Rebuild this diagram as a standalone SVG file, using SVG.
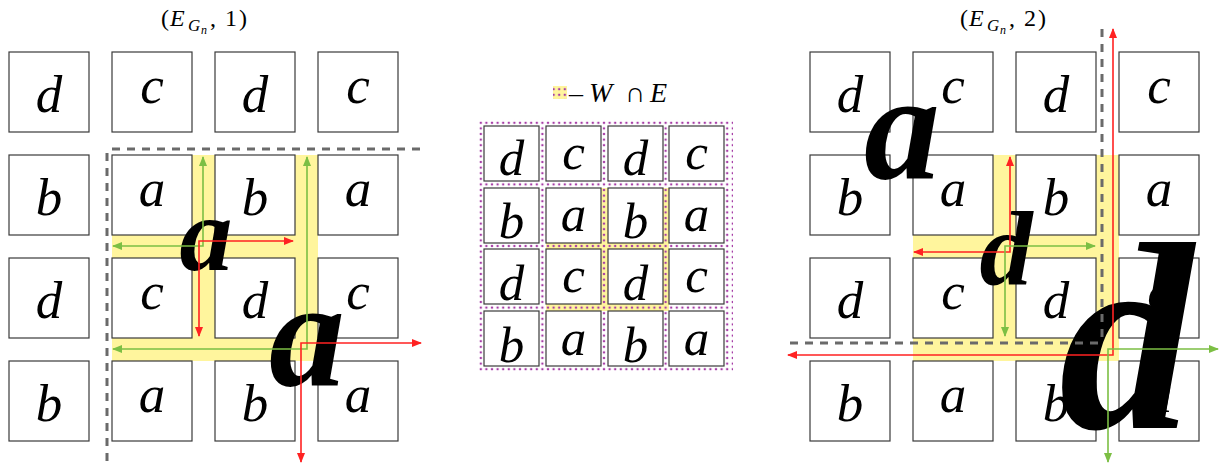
<svg xmlns="http://www.w3.org/2000/svg" width="1220" height="465" viewBox="0 0 1220 465">
  <defs>
    <style>
      .box { fill: #ffffff; stroke: #3a3a3a; stroke-width: 1.2; }
      .lt { font-family: "Liberation Serif", "DejaVu Serif", serif; font-style: italic; font-size: 53px; fill: #000; text-anchor: middle; }
      .lm { font-family: "Liberation Serif", "DejaVu Serif", serif; font-style: italic; font-size: 51px; fill: #000; text-anchor: middle; }
      .big { font-family: "Liberation Serif", "DejaVu Serif", serif; font-style: italic; font-weight: bold; fill: #000; text-anchor: middle; }
      .ttl { font-family: "Liberation Serif", "DejaVu Serif", serif; font-size: 24px; fill: #000; }
      .lgd { font-family: "Liberation Serif", "DejaVu Serif", serif; font-size: 28px; fill: #000; }
      .it { font-style: italic; }
      .band { fill: #fff59d; }
      .dash { fill: none; stroke: #6a6a6a; stroke-width: 3; stroke-dasharray: 8 7; }
      .red { fill: none; stroke: #ff2222; stroke-width: 1.6; marker-start: url(#ah-red); marker-end: url(#ah-red); }
      .green { fill: none; stroke: #7cbf44; stroke-width: 1.6; marker-start: url(#ah-green); marker-end: url(#ah-green); }
    </style>
    <marker id="ah-red" viewBox="0 0 10 8" markerUnits="userSpaceOnUse" markerWidth="10" markerHeight="8" refX="9" refY="4" orient="auto-start-reverse">
      <path d="M0,0 L10,4 L0,8 Z" fill="#ff2222"/>
    </marker>
    <marker id="ah-green" viewBox="0 0 10 8" markerUnits="userSpaceOnUse" markerWidth="10" markerHeight="8" refX="9" refY="4" orient="auto-start-reverse">
      <path d="M0,0 L10,4 L0,8 Z" fill="#7cbf44"/>
    </marker>
    <pattern id="dots" patternUnits="userSpaceOnUse" x="478" y="120" width="5.6" height="5.6">
      <circle cx="2.8" cy="2.8" r="1.25" fill="#a63ca6"/>
    </pattern>
  </defs>

  <!-- left panel: (E_{G_n},1) -->
  <g id="panel-left">
    <text class="ttl" y="26"><tspan x="161">(</tspan><tspan class="it" x="170">E</tspan><tspan class="it" x="188" y="31" font-size="17">G</tspan><tspan class="it" x="201" y="34" font-size="12">n</tspan><tspan x="210" y="26">,</tspan><tspan x="225">1</tspan><tspan x="239">)</tspan></text>
    <g id="left-bands">
      <rect class="band" x="192" y="155" width="23" height="206"/>
      <rect class="band" x="295" y="155" width="23" height="206"/>
      <rect class="band" x="112" y="235" width="206" height="23"/>
      <rect class="band" x="112" y="338" width="206" height="23"/>
    </g>
    <g id="L-r1c1"><rect class="box" x="9" y="52" width="80" height="80"/><text class="lt" x="49" y="111.5">d</text></g>
    <g id="L-r1c2"><rect class="box" x="112" y="52" width="80" height="80"/><text class="lt" x="152" y="103">c</text></g>
    <g id="L-r1c3"><rect class="box" x="215" y="52" width="80" height="80"/><text class="lt" x="255" y="111.5">d</text></g>
    <g id="L-r1c4"><rect class="box" x="318" y="52" width="80" height="80"/><text class="lt" x="358" y="103">c</text></g>
    <g id="L-r2c1"><rect class="box" x="9" y="155" width="80" height="80"/><text class="lt" x="49" y="214.5">b</text></g>
    <g id="L-r2c2"><rect class="box" x="112" y="155" width="80" height="80"/><text class="lt" x="152" y="206">a</text></g>
    <g id="L-r2c3"><rect class="box" x="215" y="155" width="80" height="80"/><text class="lt" x="255" y="214.5">b</text></g>
    <g id="L-r2c4"><rect class="box" x="318" y="155" width="80" height="80"/><text class="lt" x="358" y="206">a</text></g>
    <g id="L-r3c1"><rect class="box" x="9" y="258" width="80" height="80"/><text class="lt" x="49" y="317.5">d</text></g>
    <g id="L-r3c2"><rect class="box" x="112" y="258" width="80" height="80"/><text class="lt" x="152" y="309">c</text></g>
    <g id="L-r3c3"><rect class="box" x="215" y="258" width="80" height="80"/><text class="lt" x="255" y="317.5">d</text></g>
    <g id="L-r3c4"><rect class="box" x="318" y="258" width="80" height="80"/><text class="lt" x="358" y="309">c</text></g>
    <g id="L-r4c1"><rect class="box" x="9" y="361" width="80" height="80"/><text class="lt" x="49" y="420.5">b</text></g>
    <g id="L-r4c2"><rect class="box" x="112" y="361" width="80" height="80"/><text class="lt" x="152" y="412">a</text></g>
    <g id="L-r4c3"><rect class="box" x="215" y="361" width="80" height="80"/><text class="lt" x="255" y="420.5">b</text></g>
    <g id="L-r4c4"><rect class="box" x="318" y="361" width="80" height="80"/><text class="lt" x="358" y="412">a</text></g>
    <text class="big" x="206" y="270" font-size="106">a</text>
    <text class="big" x="307" y="385" font-size="152">a</text>
  </g>

  <!-- middle panel: W ∩ E -->
  <g id="panel-middle">
    <g id="legend">
      <rect x="553" y="86" width="14" height="13" fill="#fff59d"/>
      <rect x="553" y="86" width="14" height="13" fill="url(#dots)"/>
      <text class="lgd" y="102"><tspan x="569">–</tspan><tspan class="it" x="589">W</tspan><tspan x="625">∩</tspan><tspan class="it" x="650">E</tspan></text>
    </g>
    <g id="mid-bands">
      <rect class="band" x="600" y="188" width="8" height="123"/>
      <rect class="band" x="663" y="188" width="6" height="123"/>
      <rect class="band" x="546" y="243" width="123" height="6"/>
      <rect class="band" x="546" y="304" width="123" height="7"/>
    </g>
    <rect x="477" y="119" width="256" height="254" fill="url(#dots)"/>
    <g id="M-r1c1"><rect class="box" x="484" y="126" width="55" height="55"/><text class="lm" x="511.5" y="174.5">d</text></g>
    <g id="M-r1c2"><rect class="box" x="546" y="126" width="55" height="55"/><text class="lm" x="573.5" y="169">c</text></g>
    <g id="M-r1c3"><rect class="box" x="608" y="126" width="55" height="55"/><text class="lm" x="635.5" y="174.5">d</text></g>
    <g id="M-r1c4"><rect class="box" x="669" y="126" width="55" height="55"/><text class="lm" x="696.5" y="169">c</text></g>
    <g id="M-r2c1"><rect class="box" x="484" y="188" width="55" height="55"/><text class="lm" x="511.5" y="237.5">b</text></g>
    <g id="M-r2c2"><rect class="box" x="546" y="188" width="55" height="55"/><text class="lm" x="573.5" y="231">a</text></g>
    <g id="M-r2c3"><rect class="box" x="608" y="188" width="55" height="55"/><text class="lm" x="635.5" y="237.5">b</text></g>
    <g id="M-r2c4"><rect class="box" x="669" y="188" width="55" height="55"/><text class="lm" x="696.5" y="231">a</text></g>
    <g id="M-r3c1"><rect class="box" x="484" y="249" width="55" height="55"/><text class="lm" x="511.5" y="299.5">d</text></g>
    <g id="M-r3c2"><rect class="box" x="546" y="249" width="55" height="55"/><text class="lm" x="573.5" y="292">c</text></g>
    <g id="M-r3c3"><rect class="box" x="608" y="249" width="55" height="55"/><text class="lm" x="635.5" y="299.5">d</text></g>
    <g id="M-r3c4"><rect class="box" x="669" y="249" width="55" height="55"/><text class="lm" x="696.5" y="292">c</text></g>
    <g id="M-r4c1"><rect class="box" x="484" y="311" width="55" height="55"/><text class="lm" x="511.5" y="361.5">b</text></g>
    <g id="M-r4c2"><rect class="box" x="546" y="311" width="55" height="55"/><text class="lm" x="573.5" y="355">a</text></g>
    <g id="M-r4c3"><rect class="box" x="608" y="311" width="55" height="55"/><text class="lm" x="635.5" y="361.5">b</text></g>
    <g id="M-r4c4"><rect class="box" x="669" y="311" width="55" height="55"/><text class="lm" x="696.5" y="355">a</text></g>
  </g>

  <!-- right panel: (E_{G_n},2) -->
  <g id="panel-right">
    <text class="ttl" y="26"><tspan x="960">(</tspan><tspan class="it" x="969">E</tspan><tspan class="it" x="987" y="31" font-size="17">G</tspan><tspan class="it" x="1000" y="34" font-size="12">n</tspan><tspan x="1009" y="26">,</tspan><tspan x="1024">2</tspan><tspan x="1038">)</tspan></text>
    <g id="right-bands">
      <rect class="band" x="993" y="155" width="23" height="206"/>
      <rect class="band" x="1096" y="155" width="23" height="206"/>
      <rect class="band" x="913" y="235" width="206" height="23"/>
      <rect class="band" x="913" y="338" width="206" height="23"/>
    </g>
    <g id="R-r1c1"><rect class="box" x="810" y="52" width="80" height="80"/><text class="lt" x="850" y="111.5">d</text></g>
    <g id="R-r1c2"><rect class="box" x="913" y="52" width="80" height="80"/><text class="lt" x="953" y="103">c</text></g>
    <g id="R-r1c3"><rect class="box" x="1016" y="52" width="80" height="80"/><text class="lt" x="1056" y="111.5">d</text></g>
    <g id="R-r1c4"><rect class="box" x="1119" y="52" width="80" height="80"/><text class="lt" x="1159" y="103">c</text></g>
    <g id="R-r2c1"><rect class="box" x="810" y="155" width="80" height="80"/><text class="lt" x="850" y="214.5">b</text></g>
    <g id="R-r2c2"><rect class="box" x="913" y="155" width="80" height="80"/><text class="lt" x="953" y="206">a</text></g>
    <g id="R-r2c3"><rect class="box" x="1016" y="155" width="80" height="80"/><text class="lt" x="1056" y="214.5">b</text></g>
    <g id="R-r2c4"><rect class="box" x="1119" y="155" width="80" height="80"/><text class="lt" x="1159" y="206">a</text></g>
    <g id="R-r3c1"><rect class="box" x="810" y="258" width="80" height="80"/><text class="lt" x="850" y="317.5">d</text></g>
    <g id="R-r3c2"><rect class="box" x="913" y="258" width="80" height="80"/><text class="lt" x="953" y="309">c</text></g>
    <g id="R-r3c3"><rect class="box" x="1016" y="258" width="80" height="80"/><text class="lt" x="1056" y="317.5">d</text></g>
    <g id="R-r3c4"><rect class="box" x="1119" y="258" width="80" height="80"/><text class="lt" x="1159" y="309">c</text></g>
    <g id="R-r4c1"><rect class="box" x="810" y="361" width="80" height="80"/><text class="lt" x="850" y="420.5">b</text></g>
    <g id="R-r4c2"><rect class="box" x="913" y="361" width="80" height="80"/><text class="lt" x="953" y="412">a</text></g>
    <g id="R-r4c3"><rect class="box" x="1016" y="361" width="80" height="80"/><text class="lt" x="1056" y="420.5">b</text></g>
    <g id="R-r4c4"><rect class="box" x="1119" y="361" width="80" height="80"/><text class="lt" x="1159" y="412">a</text></g>
    <text class="big" x="902" y="178" font-size="152">a</text>
    <text class="big" x="1006" y="285" font-size="106">d</text>
    <text class="big" x="1126" y="428" font-size="268">d</text>
  </g>

  <!-- cut lines and traversal arrows -->
  <g id="connectors">
    <path class="dash" d="M112,149 H422"/>
    <path class="dash" d="M107,153 V465"/>
    <path class="dash" d="M1102,29 V341"/>
    <path class="dash" d="M1098,343 H787"/>
    <path class="green" d="M113,246 H203 V157"/>
    <path class="red" d="M199,336 V241 H293"/>
    <path class="green" d="M113,349 H307 V157"/>
    <path class="red" d="M301,462 V343 H421"/>
    <path class="red" d="M1010,157 V252 H914"/>
    <path class="green" d="M1005,336 V246 H1095"/>
    <path class="red" d="M1113,29 V355 H788"/>
    <path class="green" d="M1108,462 V349 H1218"/>
  </g>
</svg>
